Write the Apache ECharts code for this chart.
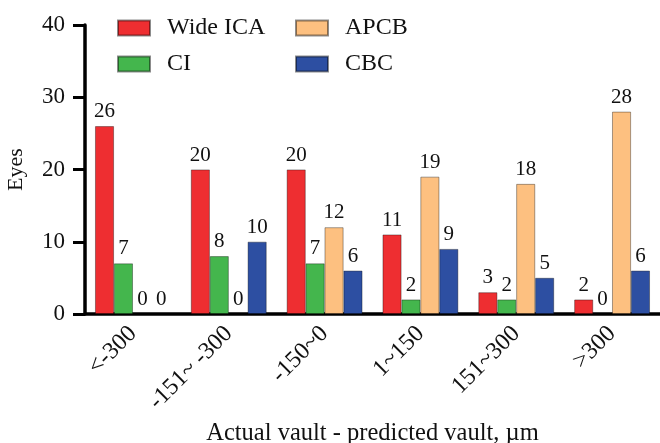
<!DOCTYPE html>
<html>
<head>
<meta charset="utf-8">
<script src="https://cdn.jsdelivr.net/npm/echarts@6/dist/echarts.min.js"></script>
<style>
  body { margin: 0; background: #fff; }
</style>
</head>
<body>
<div id="chart" style="width:660px;height:443px;"></div>
<script>
    // data
    const categories = ['<-300', '-151~ -300', '-150~0', '1~150', '151~300', '>300']
    const wide_ica = [26, 20, 20, 11, 3, 2]
    const ci = [7, 8, 7, 2, 2, 0]
    const apcb = [0, 0, 12, 19, 18, 28]
    const cbc = [0, 10, 6, 9, 5, 6]
    const y_ticks = [0, 10, 20, 30, 40]

    const font = "'Liberation Serif', 'Times New Roman', serif"

    function bar(name, data, color){
        return {
            type: 'bar',
            name: name,
            data: data,
            barGap: '0%',
            barCategoryGap: '21%',
            itemStyle: { color: color, borderColor: 'rgba(0,0,0,0.45)', borderWidth: 0.8 },
            label: {
                show: true,
                position: 'top',
                distance: 4,
                color: '#111',
                fontFamily: font,
                fontSize: 21,
            },
        }
    }

    function legend(names, left){
        return {
            data: names,
            orient: 'vertical',
            left: left,
            top: 16,
            padding: 0,
            itemWidth: 32,
            itemHeight: 15,
            itemGap: 12,
            icon: 'rect',
            textStyle: { fontFamily: font, fontSize: 24, color: '#111', padding: [0, 0, 0, 12] },
        }
    }

    const chart = echarts.init(document.getElementById('chart'))
    chart.setOption({
        animation: false,
        legend: [
            legend(['Wide ICA', 'CI'], 117),
            legend(['APCB', 'CBC'], 295),
        ],
        grid: { left: 85, right: 0, top: 25, bottom: 129, outerBoundsMode: 'none' },
        xAxis: {
            type: 'category',
            data: categories,
            name: 'Actual vault - predicted vault, \u00b5m',
            nameLocation: 'middle',
            nameGap: 105,
            nameTextStyle: { fontFamily: font, fontSize: 24.5, color: '#111' },
            axisLine: { lineStyle: { color: '#000', width: 3.5 } },
            axisTick: { alignWithLabel: true, length: 5, lineStyle: { color: '#000', width: 3 } },
            axisLabel: { rotate: 45, margin: 16, fontFamily: font, fontSize: 24, color: '#111' },
        },
        yAxis: {
            type: 'value',
            min: y_ticks[0],
            max: y_ticks[y_ticks.length - 1],
            interval: 10,
            name: 'Eyes',
            nameLocation: 'middle',
            nameGap: 58,
            nameTextStyle: { fontFamily: font, fontSize: 22, color: '#111' },
            axisLine: { show: true, lineStyle: { color: '#000', width: 3.5 } },
            axisTick: { show: true, length: 12, lineStyle: { color: '#000', width: 3 } },
            axisLabel: { margin: 20, fontFamily: font, fontSize: 23, color: '#111' },
            splitLine: { show: false },
        },
        series: [
            bar('Wide ICA', wide_ica, '#EE2E31'),
            bar('CI', ci, '#44B64D'),
            bar('APCB', apcb, '#FDC080'),
            bar('CBC', cbc, '#2D4FA2'),
        ]
    })
</script>
</body>
</html>
